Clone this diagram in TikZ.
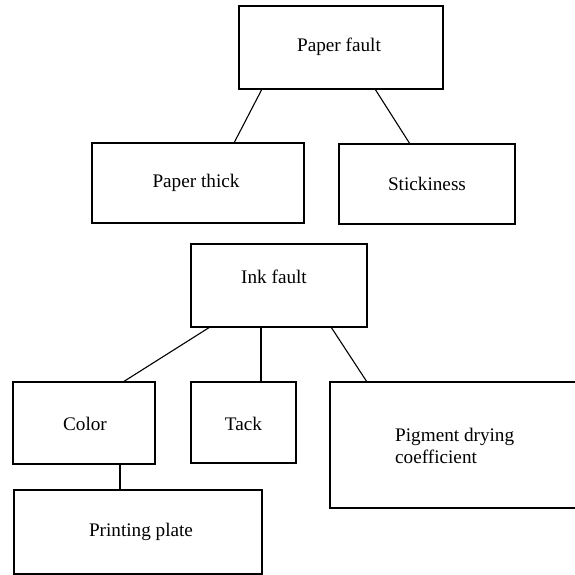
\documentclass[tikz,border=0pt]{standalone}
\usepackage{fontspec}
\setmainfont{Liberation Serif}
\begin{document}
\begin{tikzpicture}[x=1pt,y=-1pt,
  box/.style={draw=black,line width=1.1pt,rectangle,inner sep=0pt,outer sep=0pt},
  lbl/.style={inner sep=0pt,font=\fontsize{19.2}{22}\selectfont},
  conn/.style={draw=black,line width=1.1pt}]
\useasboundingbox[fill=white] (0,0) rectangle (574,575);
% boxes
\node[box,minimum width=204pt,minimum height=83pt] (pf) at (341,47.5) {};
\node[box,minimum width=212pt,minimum height=80pt] (pt) at (198,183) {};
\node[box,minimum width=176pt,minimum height=80pt] (st) at (427,184) {};
\node[box,minimum width=176pt,minimum height=83pt] (ink) at (279,285.5) {};
\node[box,minimum width=142pt,minimum height=82pt] (col) at (84,423) {};
\node[box,minimum width=105pt,minimum height=81pt] (tack) at (243.5,422.5) {};
\node[box,minimum width=250pt,minimum height=126pt] (pig) at (455,445) {};
\node[box,minimum width=248pt,minimum height=84pt] (pp) at (138,532) {};
% labels
\node[lbl] (pf-t) at (339,47) {Paper fault};
\node[lbl] (pt-t) at (196,183) {Paper thick};
\node[lbl] (st-t) at (427,184) {Stickiness};
\node[lbl] (ink-t) at (274,277) {Ink fault};
\node[lbl] (col-t) at (85,424) {Color};
\node[lbl] (tack-t) at (243.5,424) {Tack};
\node[lbl,anchor=west,align=left] (pig-t) at (395,446) {Pigment drying\\coefficient};
\node[lbl] (pp-t) at (141,532) {Printing plate};
% connectors
\draw[conn] (pf.south -| 262,0) -- (pt.north -| 234,0);
\draw[conn] (pf.south -| 375,0) -- (st.north -| 410,0);
\draw[conn] (ink.south -| 210,0) -- (col.north -| 123,0);
\draw[conn] (ink.south -| 261,0) -- (tack.north -| 261,0);
\draw[conn] (ink.south -| 331,0) -- (pig.north -| 367,0);
\draw[conn] (col.south -| 120,0) -- (pp.north -| 120,0);
\end{tikzpicture}
\end{document}
